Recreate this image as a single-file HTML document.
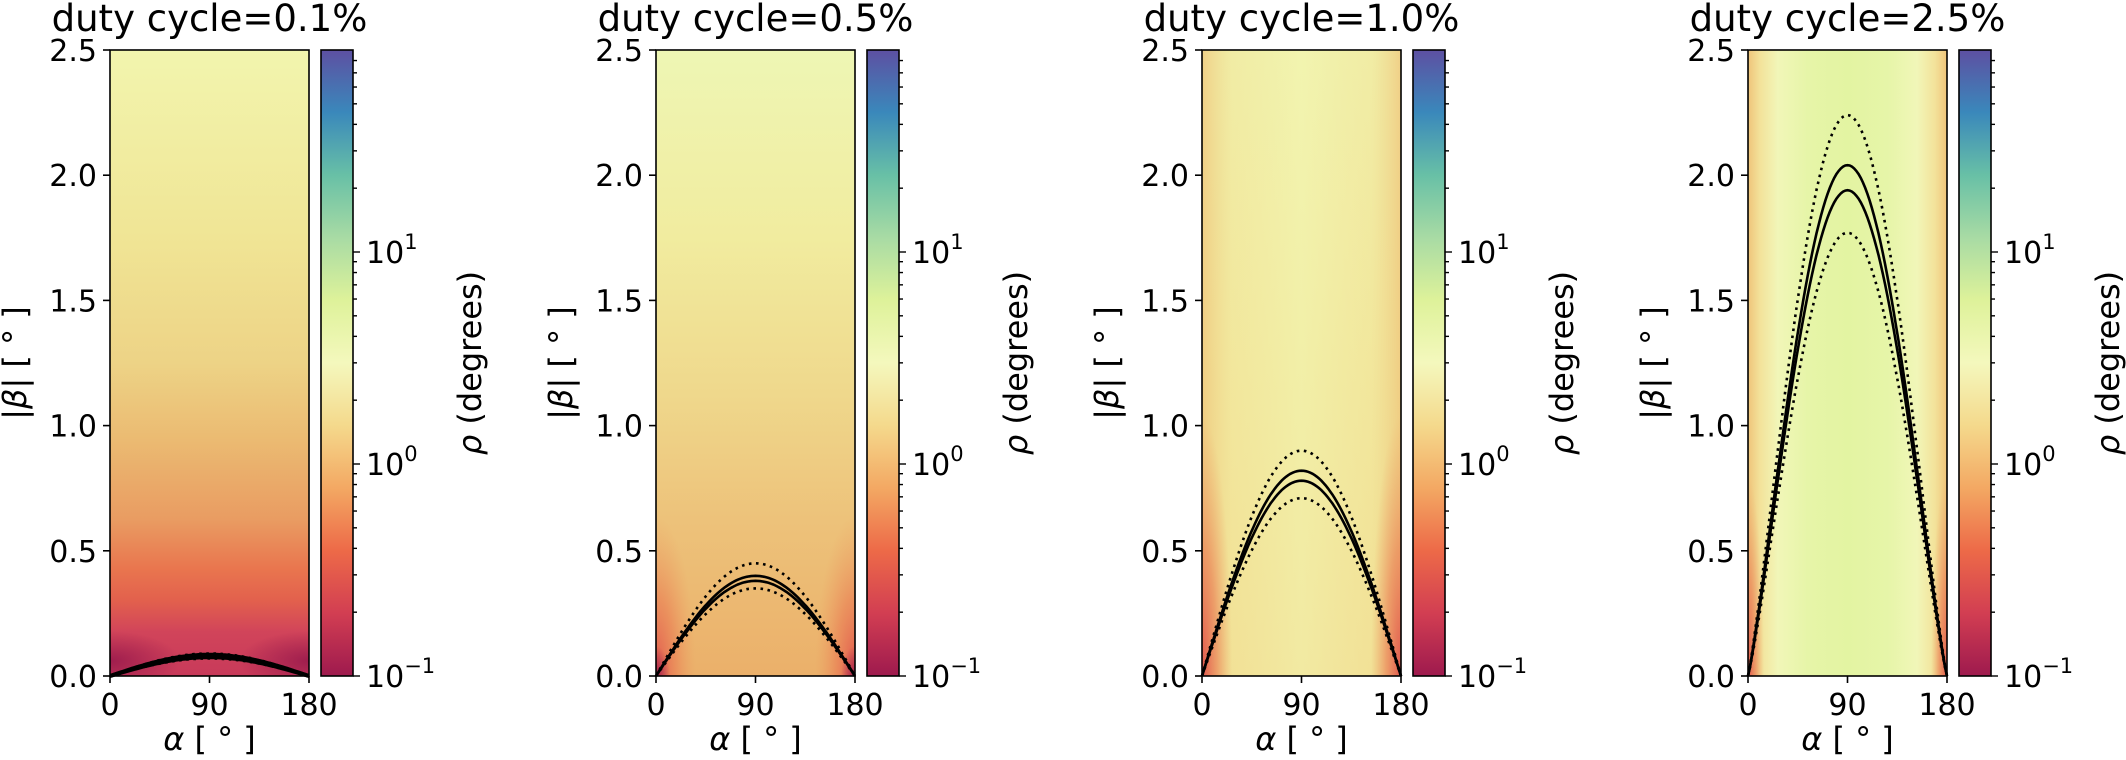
<!DOCTYPE html>
<html><head><meta charset="utf-8">
<style>
html,body{margin:0;padding:0;background:#fff;width:2126px;height:760px;overflow:hidden;}
svg{display:block;}
text{font-family:"DejaVu Sans","Liberation Sans",sans-serif;fill:#000;}
</style></head>
<body>
<svg id="s" width="2126" height="760" xmlns="http://www.w3.org/2000/svg">
<defs>
<linearGradient id="cb" x1="0" y1="1" x2="0" y2="0">
<stop offset="0" stop-color="#9e1a4e"/><stop offset="0.1" stop-color="#d23e52"/>
<stop offset="0.2" stop-color="#ed6a48"/><stop offset="0.3" stop-color="#f3a863"/>
<stop offset="0.4" stop-color="#f4d98c"/><stop offset="0.5" stop-color="#f4f8bd"/>
<stop offset="0.6" stop-color="#def29a"/><stop offset="0.7" stop-color="#a8dba4"/>
<stop offset="0.8" stop-color="#68c0a6"/><stop offset="0.9" stop-color="#3a88bb"/>
<stop offset="1" stop-color="#5d50a2"/>
</linearGradient>
<linearGradient id="g1" x1="0" y1="0" x2="0" y2="1">
<stop offset="0" stop-color="#f2f5ae"/><stop offset="0.3" stop-color="#f0e595"/>
<stop offset="0.5" stop-color="#edd386"/><stop offset="0.62" stop-color="#ebbb72"/>
<stop offset="0.75" stop-color="#e99c62"/><stop offset="0.83" stop-color="#e9754e"/>
<stop offset="0.88" stop-color="#e2604d"/><stop offset="0.93" stop-color="#d1445a"/>
<stop offset="1" stop-color="#c83a5a"/>
</linearGradient>
<linearGradient id="g2" x1="0" y1="0" x2="0" y2="1">
<stop offset="0" stop-color="#eef6b4"/><stop offset="0.3" stop-color="#f1ec9f"/>
<stop offset="0.55" stop-color="#efd88c"/><stop offset="0.75" stop-color="#edc27a"/>
<stop offset="1" stop-color="#ebb06a"/>
</linearGradient>
<linearGradient id="g3" x1="0" y1="0" x2="0" y2="1">
<stop offset="0" stop-color="#f1f3ad"/><stop offset="0.5" stop-color="#f2eca2"/>
<stop offset="1" stop-color="#f2e49a"/>
</linearGradient>
<linearGradient id="g3h" x1="0" y1="0" x2="1" y2="0">
<stop offset="0" stop-color="#eeb86e" stop-opacity="0.6"/><stop offset="0.15" stop-color="#f0d88c" stop-opacity="0.25"/>
<stop offset="0.5" stop-color="#f3f7b5" stop-opacity="0.3"/>
<stop offset="0.85" stop-color="#f0d88c" stop-opacity="0.25"/><stop offset="1" stop-color="#eeb86e" stop-opacity="0.6"/>
</linearGradient>
<linearGradient id="g4" x1="0" y1="0" x2="1" y2="0">
<stop offset="0" stop-color="#efc47a"/><stop offset="0.06" stop-color="#f3e29a"/>
<stop offset="0.15" stop-color="#f1f6b8"/><stop offset="0.3" stop-color="#e6f5a8"/>
<stop offset="0.5" stop-color="#e3f4a2"/><stop offset="0.7" stop-color="#e6f5a8"/>
<stop offset="0.85" stop-color="#f1f6b8"/><stop offset="0.94" stop-color="#f3e29a"/>
<stop offset="1" stop-color="#efc47a"/>
</linearGradient>
<radialGradient id="rc"><stop offset="0" stop-color="#9a1a4c" stop-opacity="0.9"/><stop offset="1" stop-color="#9a1a4c" stop-opacity="0"/></radialGradient>
<radialGradient id="ro"><stop offset="0" stop-color="#e0504c" stop-opacity="0.95"/><stop offset="0.5" stop-color="#ea7a52" stop-opacity="0.6"/><stop offset="1" stop-color="#ec9a60" stop-opacity="0"/></radialGradient>
</defs>
<g id="root"></g>
</svg>
<script>
(function(){
var root=document.getElementById('root');var h='';
var W=199,Y0=676,YT=50,H=626;
var titles=['duty cycle=0.1%','duty cycle=0.5%','duty cycle=1.0%','duty cycle=2.5%'];
var curves=[[0.085,0.075,0.09,0.07],[0.40,0.38,0.45,0.35],[0.82,0.78,0.90,0.71],[2.04,1.94,2.24,1.77]];
function path(ox,hh,p){var d='';for(var i=0;i<=90;i++){var a=i/90*Math.PI;var v=hh*Math.pow(Math.sin(a),p);var x=ox+i/90*W,y=Y0-v/2.5*H;d+=(i?'L':'M')+x.toFixed(1)+','+y.toFixed(1);}return d;}
for(var k=0;k<4;k++){
 var ox=110+546*k, cx=ox+W+12, cw=32;
 h+='<svg x="'+ox+'" y="'+YT+'" width="'+W+'" height="'+H+'" overflow="hidden">';
 if(k==0){h+='<rect width="'+W+'" height="'+H+'" fill="url(#g1)"/>';
  h+='<ellipse cx="0" cy="'+(H-15)+'" rx="70" ry="30" fill="url(#rc)"/><ellipse cx="'+W+'" cy="'+(H-15)+'" rx="70" ry="30" fill="url(#rc)"/>';}
 if(k==1){h+='<rect width="'+W+'" height="'+H+'" fill="url(#g2)"/>';
  h+='<ellipse cx="0" cy="'+H+'" rx="40" ry="160" fill="url(#ro)"/><ellipse cx="'+W+'" cy="'+H+'" rx="40" ry="160" fill="url(#ro)"/>';
  h+='<ellipse cx="0" cy="'+H+'" rx="14" ry="30" fill="url(#rc)"/><ellipse cx="'+W+'" cy="'+H+'" rx="14" ry="30" fill="url(#rc)"/>';}
 if(k==2){h+='<rect width="'+W+'" height="'+H+'" fill="url(#g3)"/><rect width="'+W+'" height="'+H+'" fill="url(#g3h)"/>';
  h+='<ellipse cx="0" cy="'+H+'" rx="30" ry="260" fill="url(#ro)"/><ellipse cx="'+W+'" cy="'+H+'" rx="30" ry="260" fill="url(#ro)"/>';}
 if(k==3){h+='<rect width="'+W+'" height="'+H+'" fill="url(#g4)"/>';
  h+='<ellipse cx="0" cy="'+H+'" rx="16" ry="200" fill="url(#ro)"/><ellipse cx="'+W+'" cy="'+H+'" rx="16" ry="200" fill="url(#ro)"/>';}
 h+='</svg>';
 var c=curves[k], p=(k==3?1.15:1);
 var sw=(k==0?4:2.6);
 h+='<path d="'+path(ox,c[0],p)+'" fill="none" stroke="#000" stroke-width="'+sw+'"/>';
 h+='<path d="'+path(ox,c[1],p)+'" fill="none" stroke="#000" stroke-width="'+sw+'"/>';
 h+='<path d="'+path(ox,c[2],p)+'" fill="none" stroke="#000" stroke-width="2.6" stroke-dasharray="2.6,4.5"/>';
 h+='<path d="'+path(ox,c[3],p)+'" fill="none" stroke="#000" stroke-width="2.6" stroke-dasharray="2.6,4.5"/>';
 h+='<rect x="'+ox+'" y="'+YT+'" width="'+W+'" height="'+H+'" fill="none" stroke="#000" stroke-width="1.6"/>';
 for(var t=0;t<=5;t++){var y=Y0-t*H/5;h+='<line x1="'+(ox-7)+'" y1="'+y+'" x2="'+ox+'" y2="'+y+'" stroke="#000" stroke-width="1.6"/>';
  h+='<text x="'+(ox-13)+'" y="'+(y+11)+'" font-size="30" text-anchor="end">'+(t*0.5).toFixed(1)+'</text>';}
 var xl=['0','90','180'];
 for(var t=0;t<3;t++){var x=ox+t*W/2;h+='<line x1="'+x+'" y1="'+Y0+'" x2="'+x+'" y2="'+(Y0+7)+'" stroke="#000" stroke-width="1.6"/>';
  h+='<text x="'+x+'" y="'+(Y0+39)+'" font-size="30" text-anchor="middle">'+xl[t]+'</text>';}
 h+='<text x="'+(ox+W/2)+'" y="'+(Y0+74)+'" font-size="32" text-anchor="middle"><tspan font-style="italic">α</tspan> [ ° ]</text>';
 h+='<text transform="translate('+(ox-84)+',363) rotate(-90)" font-size="32" text-anchor="middle">|<tspan font-style="italic">β</tspan>| [ ° ]</text>';
 h+='<text x="'+(ox+W/2)+'" y="31" font-size="37" text-anchor="middle">'+titles[k]+'</text>';
 h+='<rect x="'+cx+'" y="'+YT+'" width="'+cw+'" height="'+H+'" fill="url(#cb)" stroke="#000" stroke-width="1.6"/>';
 var dec=212;
 for(var e=-1;e<=1;e++){for(var m=1;m<10;m++){var v=e+Math.log10(m);var y=Y0-(v+1)*dec;if(y<YT)break;
  var L=(m==1?7:4);h+='<line x1="'+(cx+cw)+'" y1="'+y+'" x2="'+(cx+cw+L)+'" y2="'+y+'" stroke="#000" stroke-width="1.4"/>';
  if(m==1){h+='<text x="'+(cx+cw+13)+'" y="'+(y+11)+'" font-size="30">10<tspan dy="-14" font-size="21">'+(e<0?'−1':e)+'</tspan></text>';}}}
 h+='<text transform="translate('+(cx+cw+128)+',363) rotate(-90)" font-size="32" text-anchor="middle"><tspan font-style="italic">ρ</tspan> (degrees)</text>';
}
root.innerHTML=h;
})();
</script>
</body></html>
